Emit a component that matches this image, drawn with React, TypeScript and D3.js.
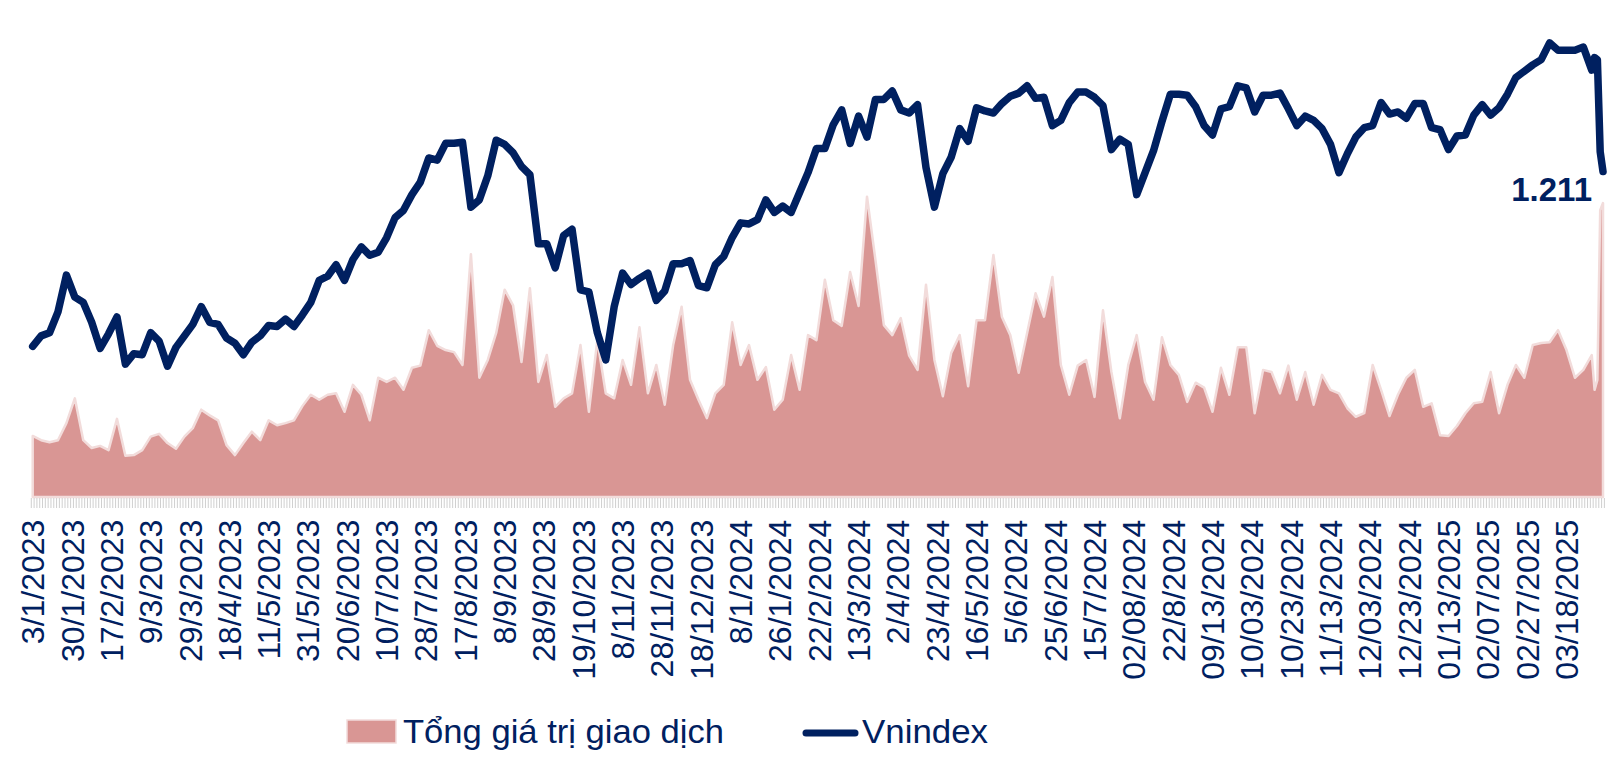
import React, { useEffect, useRef } from "react";
import * as d3 from "d3";

// one tick label every 14 sessions
const tickLabels = [
  "3/1/2023", "30/1/2023", "17/2/2023", "9/3/2023", "29/3/2023", "18/4/2023", "11/5/2023", "31/5/2023",
  "20/6/2023", "10/7/2023", "28/7/2023", "17/8/2023", "8/9/2023", "28/9/2023", "19/10/2023", "8/11/2023",
  "28/11/2023", "18/12/2023", "8/1/2024", "26/1/2024", "22/2/2024", "13/3/2024", "2/4/2024", "23/4/2024",
  "16/5/2024", "5/6/2024", "25/6/2024", "15/7/2024", "02/08/2024", "22/8/2024", "09/13/2024", "10/03/2024",
  "10/23/2024", "11/13/2024", "12/03/2024", "12/23/2024", "01/13/2025", "02/07/2025", "02/27/2025", "03/18/2025",
];

// Vnindex, read every 3rd session (sessions 0, 3, 6 ... 555)
const vnindexEvery3 = [
  1044, 1054, 1057, 1077, 1112, 1091, 1086, 1067, 1042, 1056,
  1072, 1027, 1037, 1036, 1057, 1049, 1025, 1043, 1054, 1065,
  1082, 1067, 1065, 1052, 1047, 1036, 1048, 1054, 1064, 1063,
  1070, 1063, 1074, 1086, 1107, 1111, 1122, 1107, 1127, 1139,
  1131, 1134, 1148, 1167, 1174, 1189, 1201, 1224, 1222, 1238,
  1238, 1239, 1177, 1184, 1207, 1241, 1237, 1229, 1216, 1208,
  1142, 1142, 1119, 1150, 1156, 1098, 1096, 1057, 1031, 1082,
  1114, 1103, 1109, 1114, 1088, 1097, 1123, 1123, 1126, 1102,
  1100, 1122, 1130, 1148, 1162, 1161, 1165, 1184, 1172, 1178,
  1172, 1191, 1210, 1233, 1233, 1256, 1270, 1238, 1264, 1244,
  1280, 1280, 1288, 1270, 1267, 1275, 1215, 1177, 1209, 1225,
  1252, 1240, 1272, 1269, 1267, 1276, 1283, 1286, 1293, 1281,
  1282, 1255, 1260, 1277, 1287, 1287, 1282, 1274, 1232, 1242,
  1237, 1189, 1210, 1231, 1259, 1285, 1285, 1284, 1273, 1255,
  1246, 1271, 1273, 1293, 1291, 1268, 1284, 1284, 1286, 1271,
  1255, 1264, 1260, 1252, 1237, 1210, 1228, 1244, 1253, 1255,
  1277, 1266, 1268, 1262, 1276, 1276, 1253, 1251, 1232, 1245,
  1246, 1265, 1275, 1265, 1272, 1285, 1301, 1307, 1313, 1318,
  1334, 1327, 1327, 1327, 1330, 1308,
];
// last four sessions, daily
const vnindexLast = [1320, 1318, 1230, 1211];

// Tổng giá trị giao dịch (tỷ đồng), same sessions
const valueEvery3 = [
  8600, 8000, 7700, 8000, 10400, 13900, 8000, 6900, 7200, 6600,
  11000, 5800, 5900, 6600, 8500, 8900, 7600, 6800, 8500, 9700,
  12300, 11500, 10800, 7300, 5900, 7600, 9200, 8000, 10800, 10100,
  10400, 10800, 12800, 14400, 13700, 14400, 14600, 12000, 15800, 14400,
  10800, 16800, 16200, 16800, 15100, 18200, 18500, 23500, 21300, 20700,
  20400, 18600, 34200, 16800, 19300, 23100, 29200, 27000, 19000, 29400,
  16200, 20000, 12700, 13900, 14600, 21400, 12000, 22100, 14600, 13900,
  19300, 15800, 23900, 14600, 18600, 13000, 21400, 26800, 16500, 13700,
  11100, 14600, 15800, 24600, 18600, 21400, 16500, 18300, 12300, 13700,
  20000, 15100, 22800, 22100, 30600, 24900, 24100, 31700, 26900, 42300,
  33400, 24200, 22800, 25200, 19900, 17900, 29900, 19300, 14200, 20300,
  22800, 15600, 24900, 24900, 34100, 25400, 22800, 17500, 23100, 28700,
  25400, 31000, 18600, 14400, 18500, 19300, 14100, 26300, 17600, 11100,
  18600, 22800, 16200, 13700, 22500, 18600, 17200, 13400, 16100, 15400,
  12000, 18200, 14400, 21100, 21100, 11800, 17900, 17600, 14600, 18500,
  13700, 17600, 13000, 17200, 15100, 14600, 12500, 11300, 11800, 18600,
  15100, 11400, 14400, 16800, 17900, 12700, 13200, 8700, 8600, 10000,
  11800, 13200, 13400, 17600, 11800, 15800, 18600, 16800, 21400, 21700,
  21800, 23500, 20700, 16800, 17900, 20000,
];
const valueLast = [15100, 16500, 40400, 41400];

const STEP = 3;
const LABEL_EVERY = 14;
const NAVY = "#002060";
const FILL = "#d99694";
const EDGE = "#f2dcdb";

export default function App() {
  const ref = useRef<HTMLDivElement>(null);

  useEffect(() => {
    const W = 1614, H = 757;
    const root = d3.select(ref.current);
    root.selectAll("*").remove();
    const svg = root.append("svg").attr("width", W).attr("height", H)
      .style("position", "absolute").style("left", "0").style("top", "0");

    const firstTail = (vnindexEvery3.length - 1) * STEP + 1;
    const sessions = vnindexEvery3.map((_, i) => i * STEP)
      .concat(vnindexLast.map((_, i) => firstTail + i));
    const lastSession = sessions[sessions.length - 1];

    const rows = sessions.map((s, i) => ({
      s,
      idx: i < vnindexEvery3.length ? vnindexEvery3[i] : vnindexLast[i - vnindexEvery3.length],
      val: i < valueEvery3.length ? valueEvery3[i] : valueLast[i - valueEvery3.length],
    }));

    const baseY = 497;
    const x = d3.scaleLinear().domain([0, lastSession]).range([32.7, 1603]);
    const yVal = d3.scaleLinear().domain([0, 70000]).range([baseY, 0]);
    const yIdx = d3.scaleLinear().domain([900, 1375]).range([baseY, 0]);

    // area
    const area = d3.area<any>().x((d) => x(d.s)).y0(baseY).y1((d) => yVal(d.val));
    svg.append("path").datum(rows).attr("d", area)
      .attr("fill", FILL).attr("stroke", EDGE).attr("stroke-width", 2.5).attr("stroke-linejoin", "round");

    // category ticks (one per session)
    svg.append("g").selectAll("line").data(d3.range(0, lastSession + 2)).join("line")
      .attr("x1", (d) => x(d - 0.5)).attr("x2", (d) => x(d - 0.5))
      .attr("y1", baseY + 1).attr("y2", baseY + 11)
      .attr("stroke", "#cfcfcf").attr("stroke-width", 1);

    // line
    const line = d3.line<any>().x((d) => x(d.s)).y((d) => yIdx(d.idx));
    svg.append("path").datum(rows).attr("d", line)
      .attr("fill", "none").attr("stroke", NAVY).attr("stroke-width", 7.5)
      .attr("stroke-linejoin", "round").attr("stroke-linecap", "round");

    // last value label
    const last = rows[rows.length - 1];
    svg.append("text")
      .attr("x", x(last.s) - 11).attr("y", yIdx(last.idx) + 29)
      .attr("text-anchor", "end").attr("font-family", "'Liberation Sans', Arial, sans-serif")
      .attr("font-weight", "bold").attr("font-size", 33).attr("fill", NAVY)
      .text(d3.format(",.3f")(last.idx / 1000).replace(",", "."));

    // x labels
    svg.append("g").selectAll("text").data(tickLabels).join("text")
      .attr("transform", (_, j) => `translate(${x(j * LABEL_EVERY) + 11.5}, 519.6) rotate(-90)`)
      .attr("text-anchor", "end").attr("font-family", "'Liberation Sans', Arial, sans-serif")
      .attr("font-size", 32).attr("fill", NAVY)
      .text((d) => d);

    // legend
    const lg = svg.append("g").attr("font-family", "'Liberation Sans', Arial, sans-serif").attr("font-size", 34).attr("fill", NAVY);
    lg.append("rect").attr("x", 347).attr("y", 720).attr("width", 49).attr("height", 23)
      .attr("fill", FILL).attr("stroke", EDGE).attr("stroke-width", 1.5);
    lg.append("text").attr("x", 403).attr("y", 743).attr("textLength", 321).attr("lengthAdjust", "spacingAndGlyphs")
      .text("Tổng giá trị giao dịch");
    lg.append("line").attr("x1", 806).attr("x2", 855).attr("y1", 733).attr("y2", 733)
      .attr("stroke", NAVY).attr("stroke-width", 7).attr("stroke-linecap", "round");
    lg.append("text").attr("x", 862).attr("y", 743).attr("textLength", 126).attr("lengthAdjust", "spacingAndGlyphs")
      .text("Vnindex");
  }, []);

  return <div ref={ref} style={{ width: 1614, height: 757 }}></div>;
}
